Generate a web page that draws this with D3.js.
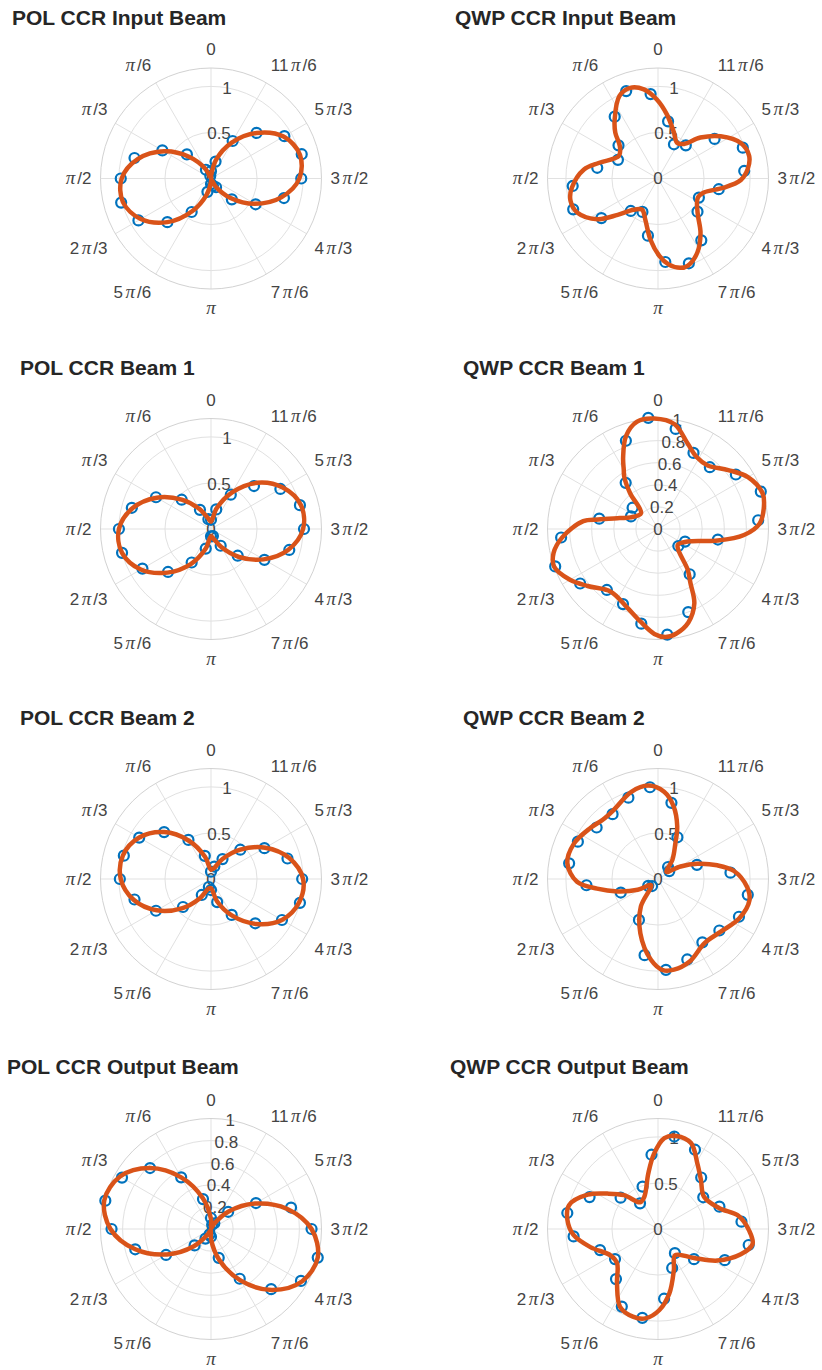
<!DOCTYPE html>
<html>
<head>
<meta charset="UTF-8">
<style>
body { margin: 0; background: #fff; }
text { font-family: "Liberation Sans", Arial, Helvetica, sans-serif; }
</style>
</head>
<body>
<svg width="822" height="1370"></svg>
<script src="https://cdn.jsdelivr.net/npm/d3@7/dist/d3.min.js"></script>
<script>

var titles = ["POL CCR Input Beam", "QWP CCR Input Beam", "POL CCR Beam 1", "QWP CCR Beam 1",
  "POL CCR Beam 2", "QWP CCR Beam 2", "POL CCR Output Beam", "QWP CCR Output Beam"];

// theta ticks (degrees, counter-clockwise from top) and their labels
var thetaTicks = [0, 30, 60, 90, 120, 150, 180, 210, 240, 270, 300, 330];
var thetaLabels = ["0", "π/6", "π/3", "π/2", "2π/3", "5π/6", "π", "7π/6", "4π/3", "3π/2", "5π/3", "11π/6"];

var rTicksCoarse = [0, 0.5, 1];
var rTicksFine = [0, 0.2, 0.4, 0.6, 0.8, 1];
var rMaxes = [1.2, 1.2, 1.2, 1, 1.2, 1.2, 1, 1.2];

// measurement angles (degrees)
var polAngles = [0, 15, 30, 45, 60, 75, 90, 105, 120, 135, 150, 165, 180, 195, 210, 225, 240, 255, 270, 285, 300, 315, 330, 345];
var qwpAngles = [5, 20, 35, 50, 65, 80, 95, 110, 125, 140, 155, 170, 185, 200, 215, 230, 245, 260, 275, 290, 305, 320, 335, 350];

// measured intensities
var polInputR = [.08, .03, .11, .37, .61, .86, .98, 1.01, .91, .67, .42, .15, .06, .08, .11, .32, .56, .82, .98, 1.02, .92, .70, .47, .19];
var qwpInputR = [.92, 1.01, .82, .56, .48, .67, .93, .98, .75, .46, .40, .63, .91, .98, .82, .56, .49, .67, .94, .98, .75, .47, .41, .63];
var polBeam1R = [.10, .11, .24, .45, .69, .89, 1.0, 1.0, .86, .66, .42, .22, .08, .08, .21, .41, .67, .88, 1.01, 1.0, .87, .66, .43, .22];
var qwpBeam1R = [1.01, .85, .51, .30, .27, .54, .88, .99, .86, .72, .75, .87, .96, .80, .50, .24, .27, .55, .91, .99, .86, .73, .76, .92];
var polBeam2R = [.08, .26, .49, .72, .90, .98, .99, .86, .69, .43, .20, .09, .12, .26, .45, .68, .89, 1.0, .99, .86, .67, .45, .25, .14];
var qwpBeam2R = [1.0, .94, .86, .87, .96, .98, .78, .43, .13, .10, .49, .84, .99, .93, .84, .87, .97, .99, .79, .45, .15, .17, .50, .84];
var polOutputR = [.10, .28, .54, .78, .93, .99, .90, .71, .47, .21, .10, .05, .07, .27, .52, .77, .94, 1.0, .91, .75, .47, .22, .06, .04];
var qwpOutputR = [.81, .49, .34, .53, .82, 1.0, .92, .67, .57, .71, .93, .98, .76, .45, .32, .51, .80, 1.0, .91, .71, .60, .73, .95, 1.02];

// fitted curves
var polInputFit = [.03, .01, .12, .33, .59, .82, .97, .99, .88, .67, .41, .18, .04, .01, .10, .30, .55, .79, .96, 1.0, .91, .70, .45, .21];
var polBeam1Fit = [.08, .12, .25, .45, .68, .88, 1.0, 1.0, .88, .67, .44, .22, .08, .11, .23, .43, .66, .87, 1.0, 1.01, .90, .71, .46, .23];
var polBeam2Fit = [.10, .25, .48, .72, .90, .99, .98, .87, .68, .45, .24, .11, .10, .25, .46, .69, .89, .99, 1.0, .88, .68, .45, .25, .12];
var polOutputFit = [.09, .29, .54, .78, .95, 1.0, .91, .71, .46, .22, .05, .01, .09, .29, .54, .78, .95, 1.0, .91, .71, .46, .22, .05, .01];

var qwpInputFitAngles = [1, 9, 17, 25, 36, 43, 50, 60, 75, 83, 96, 104, 113, 124, 132, 142, 153, 163, 173, 181, 187, 194, 199, 208, 218, 229, 244, 253, 262, 269, 276, 284, 293, 304, 314, 323, 332, 341, 352];
var qwpInputFit = [.86, .98, 1.03, .99, .80, .68, .54, .49, .66, .81, .94, .98, .95, .79, .59, .43, .38, .47, .67, .84, .94, 1.0, 1.0, .91, .75, .57, .48, .52, .72, .90, .98, 1.02, .98, .82, .64, .47, .44, .53, .70];

var qwpBeam1FitAngles = [2, 11, 19, 26, 30, 33, 38, 47, 67, 74, 81, 84, 95, 103, 110, 120, 129, 143, 158, 169, 178, 184, 190, 198, 206, 211, 216, 231, 247, 259, 266, 273, 282, 289, 300, 310, 322, 332, 341, 351];
var qwpBeam1Fit = [1.0, .99, .89, .72, .62, .56, .41, .21, .27, .36, .55, .68, .87, .97, 1.0, .92, .82, .71, .76, .85, .95, .98, .96, .89, .75, .57, .46, .23, .29, .55, .78, .92, .98, 1.0, .94, .83, .73, .74, .82, .96];

var qwpBeam2FitAngles = [6, 17, 33, 43, 53, 67, 80, 92, 99, 107, 118, 132, 148, 162, 175, 183, 190, 201, 216, 230, 244, 257, 265, 276, 283, 291, 299, 311, 323, 334, 340, 348, 356];
var qwpBeam2Fit = [1.02, .99, .89, .88, .92, .99, 1.0, .88, .67, .46, .25, .10, .35, .62, .88, .99, 1.0, .96, .86, .89, .98, 1.02, .97, .83, .66, .46, .28, .12, .26, .43, .61, .81, .95];

var qwpOutputFitAngles = [3, 10, 23, 34, 45, 55, 64, 75, 84, 94, 105, 119, 130, 143, 154, 164, 172, 181, 190, 201, 213, 231, 242, 253, 261, 269, 279, 289, 305, 319, 329, 339, 349, 356];
var qwpOutputFit = [.82, .61, .38, .35, .52, .67, .85, 1.0, .99, .92, .76, .59, .58, .74, .94, .99, .98, .88, .71, .48, .34, .50, .73, .94, 1.04, .99, .89, .70, .61, .71, .83, 1.0, 1.03, .99];

var panels = [
  {angles: polAngles, r: polInputR, fitAngles: polAngles, fit: polInputFit, ticks: rTicksCoarse},
  {angles: qwpAngles, r: qwpInputR, fitAngles: qwpInputFitAngles, fit: qwpInputFit, ticks: rTicksCoarse},
  {angles: polAngles, r: polBeam1R, fitAngles: polAngles, fit: polBeam1Fit, ticks: rTicksCoarse},
  {angles: qwpAngles, r: qwpBeam1R, fitAngles: qwpBeam1FitAngles, fit: qwpBeam1Fit, ticks: rTicksFine},
  {angles: polAngles, r: polBeam2R, fitAngles: polAngles, fit: polBeam2Fit, ticks: rTicksCoarse},
  {angles: qwpAngles, r: qwpBeam2R, fitAngles: qwpBeam2FitAngles, fit: qwpBeam2Fit, ticks: rTicksCoarse},
  {angles: polAngles, r: polOutputR, fitAngles: polAngles, fit: polOutputFit, ticks: rTicksFine},
  {angles: qwpAngles, r: qwpOutputR, fitAngles: qwpOutputFitAngles, fit: qwpOutputFit, ticks: rTicksCoarse}
];

var svg = d3.select("svg");
svg.append("rect").attr("width", 822).attr("height", 1370).attr("fill", "#fff");

var R = 110.5,
  colX = [211, 658],
  rowY = [178.5, 529, 879, 1229],
  titleX = [12, 455, 20, 463, 20, 463, 7, 450],
  titleY = [25, 375, 725, 1074];

// screen angle for d3 radial helpers: theta runs counter-clockwise from the top
function ang(deg) { return -deg * Math.PI / 180; }

function piLabel(sel, label) {
  var parts = label.split("π");
  if (parts[0]) sel.append("tspan").text(parts[0]);
  sel.append("tspan")
    .attr("dx", parts[0] ? 2.5 : 0)
    .style("font-family", "'Liberation Serif', 'Times New Roman', serif")
    .style("font-style", "italic")
    .style("font-size", "19px")
    .text("π");
  if (parts[1]) sel.append("tspan").attr("dx", 2).text(parts[1]);
}

panels.forEach(function(p, i) {
  var cx = colX[i % 2], cy = rowY[Math.floor(i / 2)];
  var rMax = rMaxes[i];
  var r = d3.scaleLinear().domain([0, rMax]).range([0, R]);

  svg.append("text")
    .attr("x", titleX[i])
    .attr("y", titleY[Math.floor(i / 2)])
    .attr("fill", "#262626")
    .style("font-size", "21px")
    .style("font-weight", "bold")
    .text(titles[i]);

  var g = svg.append("g").attr("transform", "translate(" + cx + "," + cy + ")");

  // grid
  g.selectAll(".ring")
    .data(p.ticks.filter(function(t) { return t > 0 && t < rMax - 1e-6; }))
    .enter().append("circle")
      .attr("r", function(t) { return r(t); })
      .attr("fill", "none")
      .attr("stroke", "#e1e1e1")
      .attr("stroke-width", 1);

  g.selectAll(".spoke")
    .data(thetaTicks)
    .enter().append("line")
      .attr("x2", function(t) { return d3.pointRadial(ang(t), R)[0]; })
      .attr("y2", function(t) { return d3.pointRadial(ang(t), R)[1]; })
      .attr("stroke", "#e1e1e1")
      .attr("stroke-width", 1);

  g.append("circle")
    .attr("r", R)
    .attr("fill", "none")
    .attr("stroke", "#d2d2d2")
    .attr("stroke-width", 1);

  // theta labels
  thetaTicks.forEach(function(t, k) {
    var pt = d3.pointRadial(ang(t), R + 9);
    var sx = -Math.sin(t * Math.PI / 180), up = Math.cos(t * Math.PI / 180);
    var lab = g.append("text")
      .attr("x", pt[0])
      .attr("y", pt[1])
      .attr("fill", "#444")
      .style("font-size", "17px")
      .attr("text-anchor", sx > 0.1 ? "start" : (sx < -0.1 ? "end" : "middle"))
      .attr("dy", up > 0.1 ? "-0.21em" : (up < -0.1 ? "0.95em" : "0.35em"));
    if (thetaLabels[k].indexOf("π") >= 0) piLabel(lab, thetaLabels[k]);
    else lab.text(thetaLabels[k]);
  });

  // r labels
  g.selectAll(".rlab")
    .data(p.ticks)
    .enter().append("text")
      .attr("x", function(t) { return d3.pointRadial(ang(-10), r(t))[0]; })
      .attr("y", function(t) { return d3.pointRadial(ang(-10), r(t))[1]; })
      .attr("dy", "0.35em")
      .attr("text-anchor", "middle")
      .attr("fill", "#444")
      .style("font-size", "17px")
      .text(function(t) { return String(t); });

  // measured points
  g.selectAll(".pt")
    .data(p.angles)
    .enter().append("circle")
      .attr("cx", function(a, j) { return d3.pointRadial(ang(a), r(p.r[j]))[0]; })
      .attr("cy", function(a, j) { return d3.pointRadial(ang(a), r(p.r[j]))[1]; })
      .attr("r", 5)
      .attr("fill", "none")
      .attr("stroke", "#0072BD")
      .attr("stroke-width", 2.2);

  // fit curve
  var line = d3.lineRadial()
    .angle(function(d) { return ang(d[0]); })
    .radius(function(d) { return r(d[1]); })
    .curve(d3.curveCatmullRomClosed.alpha(0.5));

  g.append("path")
    .datum(p.fitAngles.map(function(a, j) { return [a, p.fit[j]]; }))
    .attr("fill", "none")
    .attr("stroke", "#D95319")
    .attr("stroke-width", 4.5)
    .attr("stroke-linejoin", "round")
    .attr("d", line);
});

</script>
</body>
</html>
